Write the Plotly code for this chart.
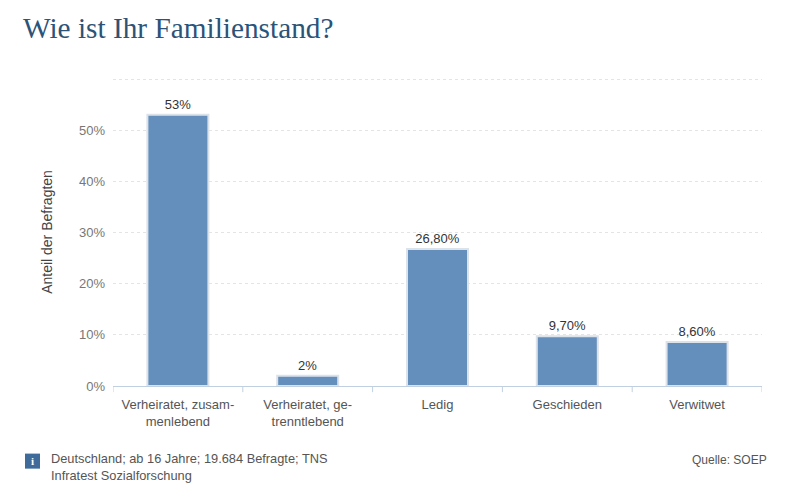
import plotly.graph_objects as go

categories = ["Verheiratet, zusam-<br>menlebend", "Verheiratet, ge-<br>trenntlebend", "Ledig", "Geschieden", "Verwitwet"]
values = [53, 2, 26.8, 9.7, 8.6]
value_labels = ["53%", "2%", "26,80%", "9,70%", "8,60%"]
y_ticks = [0, 10, 20, 30, 40, 50, 60]
y_tick_labels = ["0%", "10%", "20%", "30%", "40%", "50%", ""]

FONT = "Liberation Sans"
fig = go.Figure()
fig.add_trace(go.Bar(
    x=list(range(len(categories))), y=values, width=0.47,
    marker=dict(color="#648fbc", line=dict(color="#dbe2ea", width=2)),
    text=value_labels, textposition="outside", cliponaxis=False,
    textfont=dict(family=FONT, size=13, color="#333333"),
    hoverinfo="skip",
))
fig.update_layout(
    width=794, height=500, autosize=False,
    margin=dict(l=105, r=40, t=70, b=122),
    paper_bgcolor="white", plot_bgcolor="white", showlegend=False,
    xaxis=dict(
        tickmode="array", tickvals=list(range(len(categories))), ticktext=categories,
        range=[-0.5, 4.5], showgrid=False, ticks="", showline=True,
        linecolor="#c0d0e0", linewidth=1, zeroline=False, ticklabelstandoff=6,
        tickfont=dict(family=FONT, size=13, color="#555555"),
    ),
    yaxis=dict(
        tickmode="array", tickvals=y_ticks, ticktext=y_tick_labels, range=[0, 60.2],
        showgrid=True, griddash="dot", gridcolor="#e4e4e4", gridwidth=1,
        zeroline=False, ticks="", showline=False, ticklen=0, ticklabelstandoff=7,
        tickfont=dict(family=FONT, size=13, color="#777777"),
        title=dict(text="Anteil der Befragten", font=dict(family=FONT, size=14, color="#444444"), standoff=23),
    ),
    title=dict(text="Wie ist Ihr Familienstand?", x=15/794, xanchor="left", y=1-20/500, yanchor="middle",
               font=dict(family="Liberation Serif", size=29.3, color="#2c5378")),
    bargap=0.53,
)
# category separator ticks on the axis line
for i in range(6):
    fig.add_shape(type="line", xref="x", yref="paper", x0=i-0.5, x1=i-0.5, y0=0, y1=-0.02,
                  line=dict(color="#c0d0e0", width=1))
# info icon
fig.add_shape(type="rect", xref="paper", yref="paper",
              x0=(25-113)/649, x1=(40-113)/649, y0=-(453-385.5)/307.5, y1=-(468-385.5)/307.5,
              fillcolor="#3f6b9b", line=dict(width=0))
fig.add_annotation(xref="paper", yref="paper", x=(32.5-113)/649, y=-(460.5-385.5)/307.5, text="<b>i</b>",
                   showarrow=False, font=dict(family="Liberation Serif", size=11, color="white"),
                   xanchor="center", yanchor="middle")
fig.add_annotation(xref="paper", yref="paper", x=(49-113)/649, y=-(466.5-385.5)/307.5,
                   text="Deutschland; ab 16 Jahre; 19.684 Befragte; TNS<br>Infratest Sozialforschung",
                   showarrow=False, align="left", xanchor="left", yanchor="middle",
                   font=dict(family=FONT, size=12.8, color="#555555"))
fig.add_annotation(xref="paper", yref="paper", x=(769-113)/649, y=-(459-385.5)/307.5, text="Quelle: SOEP",
                   showarrow=False, align="right", xanchor="right", yanchor="middle",
                   font=dict(family=FONT, size=12, color="#555555"))
fig.write_html("out.html")
